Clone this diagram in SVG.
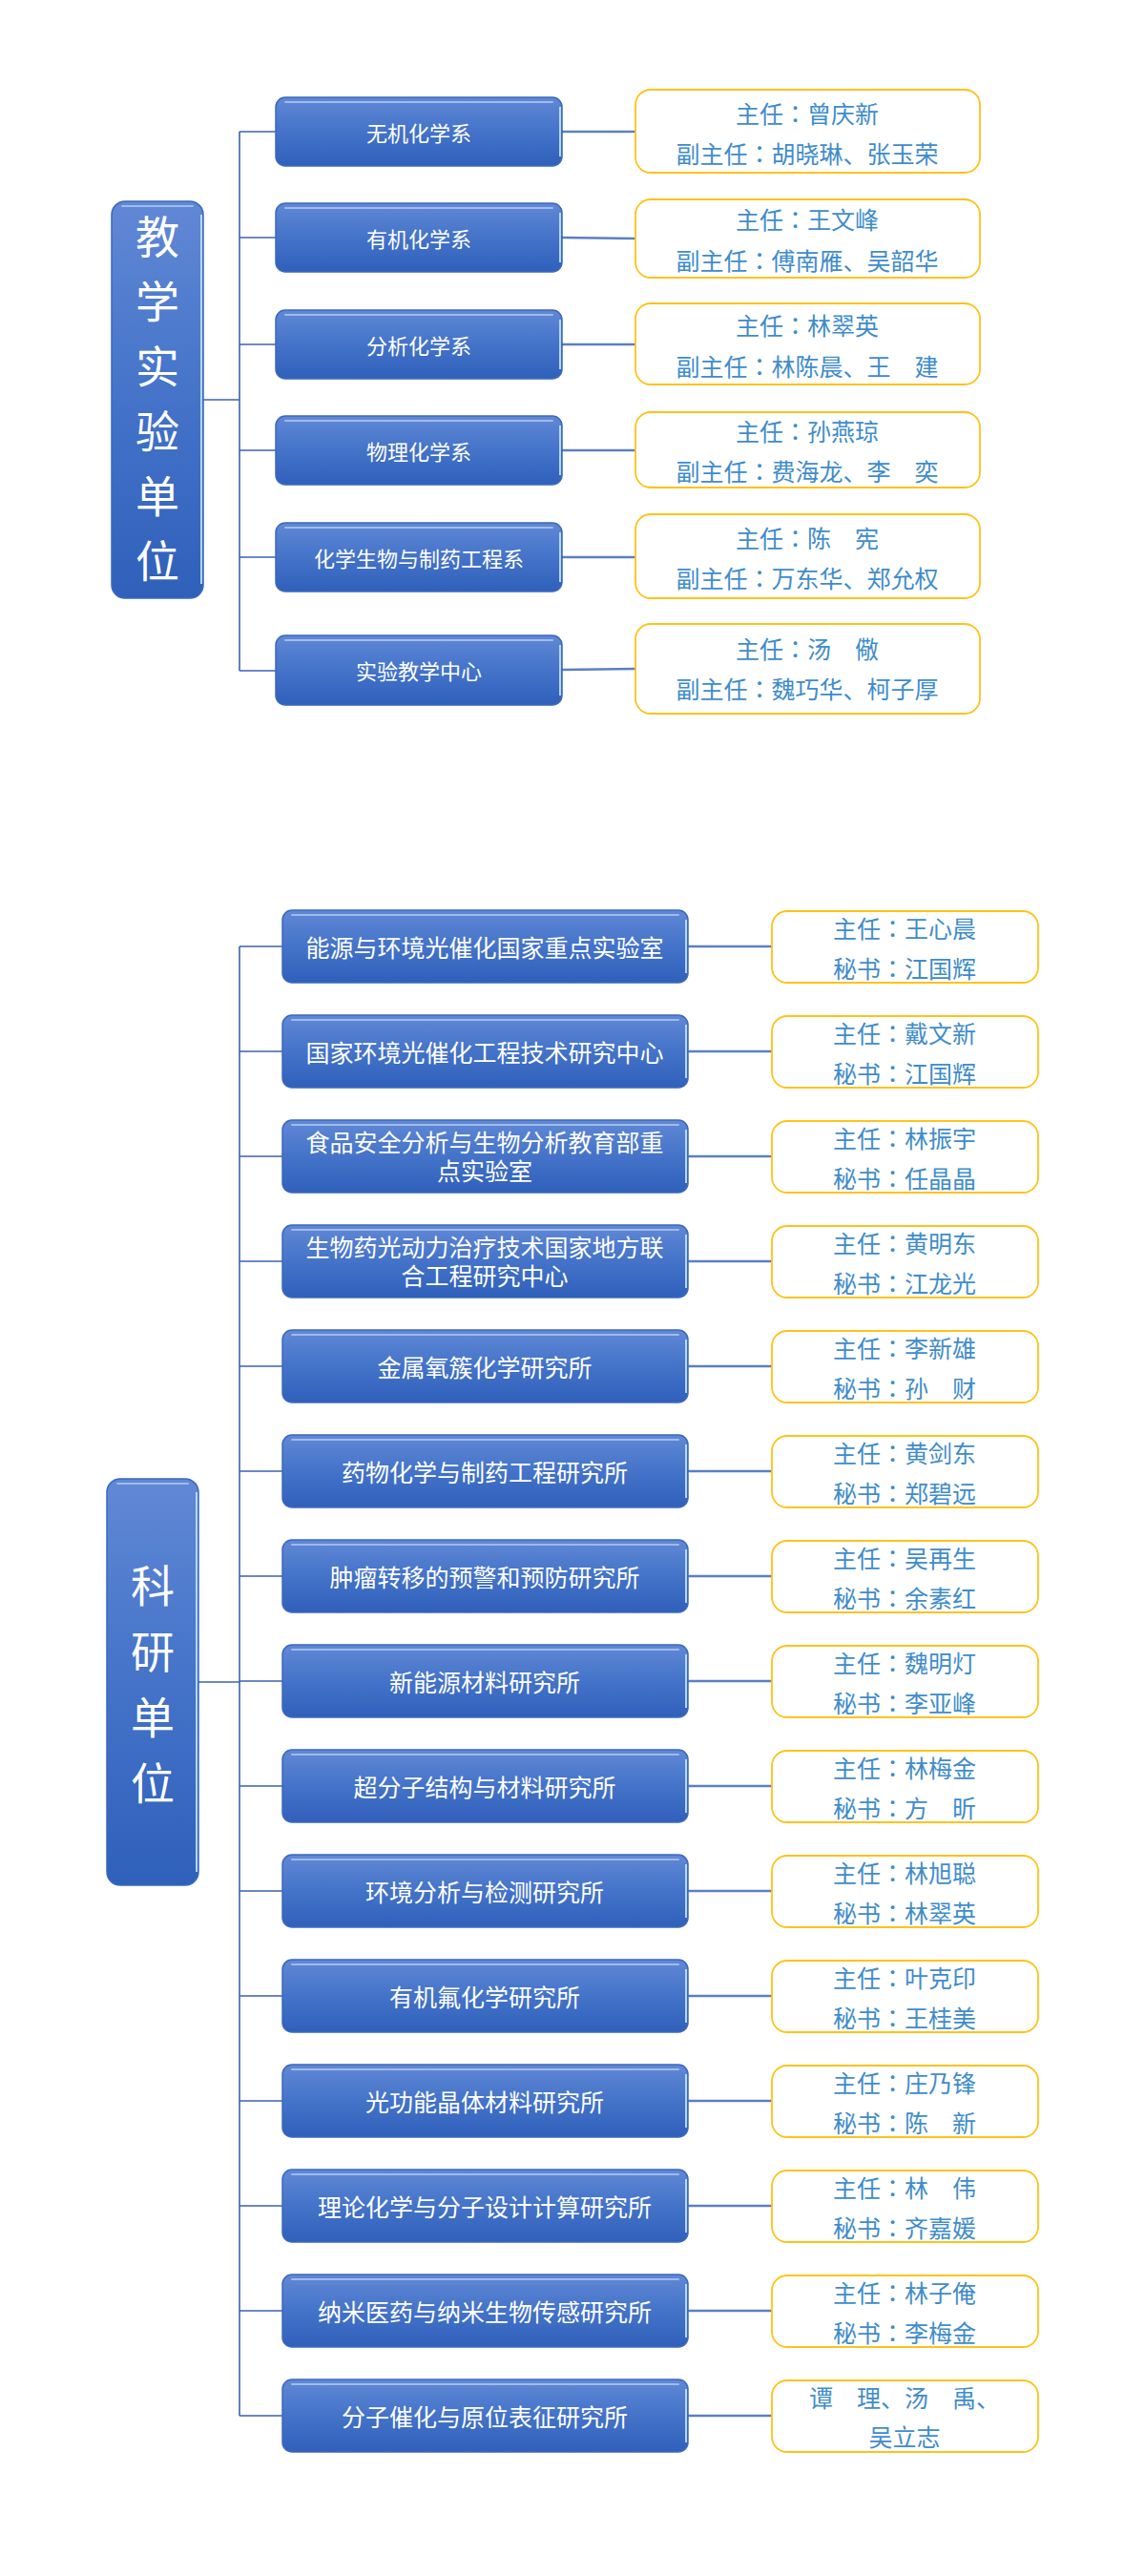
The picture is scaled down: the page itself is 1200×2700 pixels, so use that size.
<svg xmlns="http://www.w3.org/2000/svg" width="1200" height="2700" viewBox="0 0 1200 2700">
<defs>
<linearGradient id="bg" x1="0" y1="0" x2="0" y2="1">
<stop offset="0" stop-color="#6188d5"/>
<stop offset="0.45" stop-color="#4675ca"/>
<stop offset="1" stop-color="#2f60ba"/>
</linearGradient>
<style>
.bx{fill:url(#bg);stroke:#3d68bd;stroke-width:1.5}
.hl{fill:none;stroke:#a9c4f0;stroke-width:2;stroke-linecap:round;opacity:.85}
.rh{fill:none;stroke:#bfe3ff;stroke-width:2;opacity:.9}
.yb{fill:#ffffff;stroke:#ffc21a;stroke-width:1.8}
.wt{fill:#ffffff;font-family:"Noto Sans CJK SC","Noto Sans",sans-serif;text-anchor:middle;dominant-baseline:central}
.t22{font-size:22px}
.t25{font-size:25px}
.big{font-size:46px}
.bt{fill:#3f8ccb;font-family:"Noto Sans CJK SC","Noto Sans",sans-serif;font-size:25px;text-anchor:middle;dominant-baseline:central}
.cl{font-family:"Noto Sans CJK TC","Noto Sans CJK SC",sans-serif}
.tr{stroke:#3d62ad;stroke-width:1.6;fill:none}
.cn{stroke:#5b7fc2;stroke-width:2.4;fill:none}
</style>
</defs>

<g id="connectors">
<line class="tr" x1="213" y1="419" x2="251" y2="419"/>
<line class="tr" x1="251" y1="138" x2="251" y2="703"/>
<line class="tr" x1="251" y1="138" x2="289" y2="138"/>
<line class="tr" x1="251" y1="249" x2="289" y2="249"/>
<line class="tr" x1="251" y1="361" x2="289" y2="361"/>
<line class="tr" x1="251" y1="472" x2="289" y2="472"/>
<line class="tr" x1="251" y1="584" x2="289" y2="584"/>
<line class="tr" x1="251" y1="703" x2="289" y2="703"/>
<line class="cn" x1="589" y1="138" x2="666" y2="138"/>
<line class="cn" x1="589" y1="249" x2="666" y2="250"/>
<line class="cn" x1="589" y1="361" x2="666" y2="361"/>
<line class="cn" x1="589" y1="472" x2="666" y2="472"/>
<line class="cn" x1="589" y1="584" x2="666" y2="584"/>
<line class="cn" x1="589" y1="702" x2="666" y2="701"/>
<line class="tr" x1="208" y1="1763" x2="251" y2="1763"/>
<line class="tr" x1="251" y1="992" x2="251" y2="2532"/>
<path class="tr" d="M251 992H296M251 1102H296M251 1212H296M251 1322H296M251 1432H296M251 1542H296M251 1652H296M251 1762H296M251 1872H296M251 1982H296M251 2092H296M251 2202H296M251 2312H296M251 2422H296M251 2532H296"/>
<path class="cn" d="M721 992H809M721 1102H809M721 1212H809M721 1322H809M721 1432H809M721 1542H809M721 1652H809M721 1762H809M721 1872H809M721 1982H809M721 2092H809M721 2202H809M721 2312H809M721 2422H809M721 2532H809"/>
</g>

<g id="teach-root">
<rect class="bx" x="117" y="211" width="96" height="416" rx="14"/>
<line class="hl" x1="128" y1="216" x2="202" y2="216"/>
<line class="rh" x1="211" y1="225" x2="211" y2="612"/>
<text class="wt big" x="165" y="245">教</text>
<text class="wt big" x="165" y="313">学</text>
<text class="wt big" x="165" y="381">实</text>
<text class="wt big" x="165" y="449">验</text>
<text class="wt big" x="165" y="517">单</text>
<text class="wt big" x="165" y="585">位</text>
</g>

<g id="t1">
<rect class="bx" x="289" y="102" width="300" height="72" rx="10"/>
<line class="hl" x1="299" y1="107" x2="579" y2="107"/>
<line class="rh" x1="587" y1="112" x2="587" y2="164"/>
<text class="wt t22" x="439" y="138">无机化学系</text>
</g>
<g id="t1-info">
<rect class="yb" x="666" y="94" width="361" height="87" rx="16"/>
<text class="bt" x="846" y="118">主任<tspan class="cl">：</tspan>曾庆新</text>
<text class="bt" x="846" y="160">副主任<tspan class="cl">：</tspan>胡晓琳、张玉荣</text>
</g>

<g id="t2">
<rect class="bx" x="289" y="213" width="300" height="72" rx="10"/>
<line class="hl" x1="299" y1="218" x2="579" y2="218"/>
<line class="rh" x1="587" y1="223" x2="587" y2="275"/>
<text class="wt t22" x="439" y="249">有机化学系</text>
</g>
<g id="t2-info">
<rect class="yb" x="666" y="209" width="361" height="82" rx="16"/>
<text class="bt" x="846" y="229">主任<tspan class="cl">：</tspan>王文峰</text>
<text class="bt" x="846" y="272">副主任<tspan class="cl">：</tspan>傅南雁、吴韶华</text>
</g>

<g id="t3">
<rect class="bx" x="289" y="325" width="300" height="72" rx="10"/>
<line class="hl" x1="299" y1="330" x2="579" y2="330"/>
<line class="rh" x1="587" y1="335" x2="587" y2="387"/>
<text class="wt t22" x="439" y="361">分析化学系</text>
</g>
<g id="t3-info">
<rect class="yb" x="666" y="318" width="361" height="85" rx="16"/>
<text class="bt" x="846" y="340">主任<tspan class="cl">：</tspan>林翠英</text>
<text class="bt" x="846" y="383">副主任<tspan class="cl">：</tspan>林陈晨、王　建</text>
</g>

<g id="t4">
<rect class="bx" x="289" y="436" width="300" height="72" rx="10"/>
<line class="hl" x1="299" y1="441" x2="579" y2="441"/>
<line class="rh" x1="587" y1="446" x2="587" y2="498"/>
<text class="wt t22" x="439" y="472">物理化学系</text>
</g>
<g id="t4-info">
<rect class="yb" x="666" y="432" width="361" height="79" rx="16"/>
<text class="bt" x="846" y="451">主任<tspan class="cl">：</tspan>孙燕琼</text>
<text class="bt" x="846" y="493">副主任<tspan class="cl">：</tspan>费海龙、李　奕</text>
</g>

<g id="t5">
<rect class="bx" x="289" y="548" width="300" height="72" rx="10"/>
<line class="hl" x1="299" y1="553" x2="579" y2="553"/>
<line class="rh" x1="587" y1="558" x2="587" y2="610"/>
<text class="wt t22" x="439" y="584">化学生物与制药工程系</text>
</g>
<g id="t5-info">
<rect class="yb" x="666" y="539" width="361" height="88" rx="16"/>
<text class="bt" x="846" y="563">主任<tspan class="cl">：</tspan>陈　宪</text>
<text class="bt" x="846" y="605">副主任<tspan class="cl">：</tspan>万东华、郑允权</text>
</g>

<g id="t6">
<rect class="bx" x="289" y="666" width="300" height="73" rx="10"/>
<line class="hl" x1="299" y1="671" x2="579" y2="671"/>
<line class="rh" x1="587" y1="676" x2="587" y2="729"/>
<text class="wt t22" x="439" y="702">实验教学中心</text>
</g>
<g id="t6-info">
<rect class="yb" x="666" y="654" width="361" height="94" rx="16"/>
<text class="bt" x="846" y="679">主任<tspan class="cl">：</tspan>汤　儆</text>
<text class="bt" x="846" y="721">副主任<tspan class="cl">：</tspan>魏巧华、柯子厚</text>
</g>

<g id="research-root">
<rect class="bx" x="112" y="1550" width="96" height="426" rx="14"/>
<line class="hl" x1="123" y1="1555" x2="197" y2="1555"/>
<line class="rh" x1="206" y1="1564" x2="206" y2="1962"/>
<text class="wt big" x="160" y="1659">科</text>
<text class="wt big" x="160" y="1728">研</text>
<text class="wt big" x="160" y="1797">单</text>
<text class="wt big" x="160" y="1866">位</text>
</g>

<g id="r1">
<rect class="bx" x="296" y="954" width="425" height="76" rx="10"/>
<line class="hl" x1="306" y1="959" x2="711" y2="959"/>
<line class="rh" x1="719" y1="964" x2="719" y2="1020"/>
<text class="wt t25" x="508" y="992">能源与环境光催化国家重点实验室</text>
</g>
<g id="r1-info">
<rect class="yb" x="809" y="955" width="279" height="75" rx="16"/>
<text class="bt" x="948" y="972">主任<tspan class="cl">：</tspan>王心晨</text>
<text class="bt" x="948" y="1014">秘书<tspan class="cl">：</tspan>江国辉</text>
</g>

<g id="r2">
<rect class="bx" x="296" y="1064" width="425" height="76" rx="10"/>
<line class="hl" x1="306" y1="1069" x2="711" y2="1069"/>
<line class="rh" x1="719" y1="1074" x2="719" y2="1130"/>
<text class="wt t25" x="508" y="1102">国家环境光催化工程技术研究中心</text>
</g>
<g id="r2-info">
<rect class="yb" x="809" y="1065" width="279" height="75" rx="16"/>
<text class="bt" x="948" y="1082">主任<tspan class="cl">：</tspan>戴文新</text>
<text class="bt" x="948" y="1124">秘书<tspan class="cl">：</tspan>江国辉</text>
</g>

<g id="r3">
<rect class="bx" x="296" y="1174" width="425" height="76" rx="10"/>
<line class="hl" x1="306" y1="1179" x2="711" y2="1179"/>
<line class="rh" x1="719" y1="1184" x2="719" y2="1240"/>
<text class="wt t25" x="508" y="1196">食品安全分析与生物分析教育部重<tspan x="508" dy="30">点实验室</tspan></text>
</g>
<g id="r3-info">
<rect class="yb" x="809" y="1175" width="279" height="75" rx="16"/>
<text class="bt" x="948" y="1192">主任<tspan class="cl">：</tspan>林振宇</text>
<text class="bt" x="948" y="1234">秘书<tspan class="cl">：</tspan>任晶晶</text>
</g>

<g id="r4">
<rect class="bx" x="296" y="1284" width="425" height="76" rx="10"/>
<line class="hl" x1="306" y1="1289" x2="711" y2="1289"/>
<line class="rh" x1="719" y1="1294" x2="719" y2="1350"/>
<text class="wt t25" x="508" y="1306">生物药光动力治疗技术国家地方联<tspan x="508" dy="30">合工程研究中心</tspan></text>
</g>
<g id="r4-info">
<rect class="yb" x="809" y="1285" width="279" height="75" rx="16"/>
<text class="bt" x="948" y="1302">主任<tspan class="cl">：</tspan>黄明东</text>
<text class="bt" x="948" y="1344">秘书<tspan class="cl">：</tspan>江龙光</text>
</g>

<g id="r5">
<rect class="bx" x="296" y="1394" width="425" height="76" rx="10"/>
<line class="hl" x1="306" y1="1399" x2="711" y2="1399"/>
<line class="rh" x1="719" y1="1404" x2="719" y2="1460"/>
<text class="wt t25" x="508" y="1432">金属氧簇化学研究所</text>
</g>
<g id="r5-info">
<rect class="yb" x="809" y="1395" width="279" height="75" rx="16"/>
<text class="bt" x="948" y="1412">主任<tspan class="cl">：</tspan>李新雄</text>
<text class="bt" x="948" y="1454">秘书<tspan class="cl">：</tspan>孙　财</text>
</g>

<g id="r6">
<rect class="bx" x="296" y="1504" width="425" height="76" rx="10"/>
<line class="hl" x1="306" y1="1509" x2="711" y2="1509"/>
<line class="rh" x1="719" y1="1514" x2="719" y2="1570"/>
<text class="wt t25" x="508" y="1542">药物化学与制药工程研究所</text>
</g>
<g id="r6-info">
<rect class="yb" x="809" y="1505" width="279" height="75" rx="16"/>
<text class="bt" x="948" y="1522">主任<tspan class="cl">：</tspan>黄剑东</text>
<text class="bt" x="948" y="1564">秘书<tspan class="cl">：</tspan>郑碧远</text>
</g>

<g id="r7">
<rect class="bx" x="296" y="1614" width="425" height="76" rx="10"/>
<line class="hl" x1="306" y1="1619" x2="711" y2="1619"/>
<line class="rh" x1="719" y1="1624" x2="719" y2="1680"/>
<text class="wt t25" x="508" y="1652">肿瘤转移的预警和预防研究所</text>
</g>
<g id="r7-info">
<rect class="yb" x="809" y="1615" width="279" height="75" rx="16"/>
<text class="bt" x="948" y="1632">主任<tspan class="cl">：</tspan>吴再生</text>
<text class="bt" x="948" y="1674">秘书<tspan class="cl">：</tspan>余素红</text>
</g>

<g id="r8">
<rect class="bx" x="296" y="1724" width="425" height="76" rx="10"/>
<line class="hl" x1="306" y1="1729" x2="711" y2="1729"/>
<line class="rh" x1="719" y1="1734" x2="719" y2="1790"/>
<text class="wt t25" x="508" y="1762">新能源材料研究所</text>
</g>
<g id="r8-info">
<rect class="yb" x="809" y="1725" width="279" height="75" rx="16"/>
<text class="bt" x="948" y="1742">主任<tspan class="cl">：</tspan>魏明灯</text>
<text class="bt" x="948" y="1784">秘书<tspan class="cl">：</tspan>李亚峰</text>
</g>

<g id="r9">
<rect class="bx" x="296" y="1834" width="425" height="76" rx="10"/>
<line class="hl" x1="306" y1="1839" x2="711" y2="1839"/>
<line class="rh" x1="719" y1="1844" x2="719" y2="1900"/>
<text class="wt t25" x="508" y="1872">超分子结构与材料研究所</text>
</g>
<g id="r9-info">
<rect class="yb" x="809" y="1835" width="279" height="75" rx="16"/>
<text class="bt" x="948" y="1852">主任<tspan class="cl">：</tspan>林梅金</text>
<text class="bt" x="948" y="1894">秘书<tspan class="cl">：</tspan>方　昕</text>
</g>

<g id="r10">
<rect class="bx" x="296" y="1944" width="425" height="76" rx="10"/>
<line class="hl" x1="306" y1="1949" x2="711" y2="1949"/>
<line class="rh" x1="719" y1="1954" x2="719" y2="2010"/>
<text class="wt t25" x="508" y="1982">环境分析与检测研究所</text>
</g>
<g id="r10-info">
<rect class="yb" x="809" y="1945" width="279" height="75" rx="16"/>
<text class="bt" x="948" y="1962">主任<tspan class="cl">：</tspan>林旭聪</text>
<text class="bt" x="948" y="2004">秘书<tspan class="cl">：</tspan>林翠英</text>
</g>

<g id="r11">
<rect class="bx" x="296" y="2054" width="425" height="76" rx="10"/>
<line class="hl" x1="306" y1="2059" x2="711" y2="2059"/>
<line class="rh" x1="719" y1="2064" x2="719" y2="2120"/>
<text class="wt t25" x="508" y="2092">有机氟化学研究所</text>
</g>
<g id="r11-info">
<rect class="yb" x="809" y="2055" width="279" height="75" rx="16"/>
<text class="bt" x="948" y="2072">主任<tspan class="cl">：</tspan>叶克印</text>
<text class="bt" x="948" y="2114">秘书<tspan class="cl">：</tspan>王桂美</text>
</g>

<g id="r12">
<rect class="bx" x="296" y="2164" width="425" height="76" rx="10"/>
<line class="hl" x1="306" y1="2169" x2="711" y2="2169"/>
<line class="rh" x1="719" y1="2174" x2="719" y2="2230"/>
<text class="wt t25" x="508" y="2202">光功能晶体材料研究所</text>
</g>
<g id="r12-info">
<rect class="yb" x="809" y="2165" width="279" height="75" rx="16"/>
<text class="bt" x="948" y="2182">主任<tspan class="cl">：</tspan>庄乃锋</text>
<text class="bt" x="948" y="2224">秘书<tspan class="cl">：</tspan>陈　新</text>
</g>

<g id="r13">
<rect class="bx" x="296" y="2274" width="425" height="76" rx="10"/>
<line class="hl" x1="306" y1="2279" x2="711" y2="2279"/>
<line class="rh" x1="719" y1="2284" x2="719" y2="2340"/>
<text class="wt t25" x="508" y="2312">理论化学与分子设计计算研究所</text>
</g>
<g id="r13-info">
<rect class="yb" x="809" y="2275" width="279" height="75" rx="16"/>
<text class="bt" x="948" y="2292">主任<tspan class="cl">：</tspan>林　伟</text>
<text class="bt" x="948" y="2334">秘书<tspan class="cl">：</tspan>齐嘉媛</text>
</g>

<g id="r14">
<rect class="bx" x="296" y="2384" width="425" height="76" rx="10"/>
<line class="hl" x1="306" y1="2389" x2="711" y2="2389"/>
<line class="rh" x1="719" y1="2394" x2="719" y2="2450"/>
<text class="wt t25" x="508" y="2422">纳米医药与纳米生物传感研究所</text>
</g>
<g id="r14-info">
<rect class="yb" x="809" y="2385" width="279" height="75" rx="16"/>
<text class="bt" x="948" y="2402">主任<tspan class="cl">：</tspan>林子俺</text>
<text class="bt" x="948" y="2444">秘书<tspan class="cl">：</tspan>李梅金</text>
</g>

<g id="r15">
<rect class="bx" x="296" y="2494" width="425" height="76" rx="10"/>
<line class="hl" x1="306" y1="2499" x2="711" y2="2499"/>
<line class="rh" x1="719" y1="2504" x2="719" y2="2560"/>
<text class="wt t25" x="508" y="2532">分子催化与原位表征研究所</text>
</g>
<g id="r15-info">
<rect class="yb" x="809" y="2495" width="279" height="75" rx="16"/>
<text class="bt" x="948" y="2512">谭　理、汤　禹、</text>
<text class="bt" x="948" y="2553">吴立志</text>
</g>
</svg>
